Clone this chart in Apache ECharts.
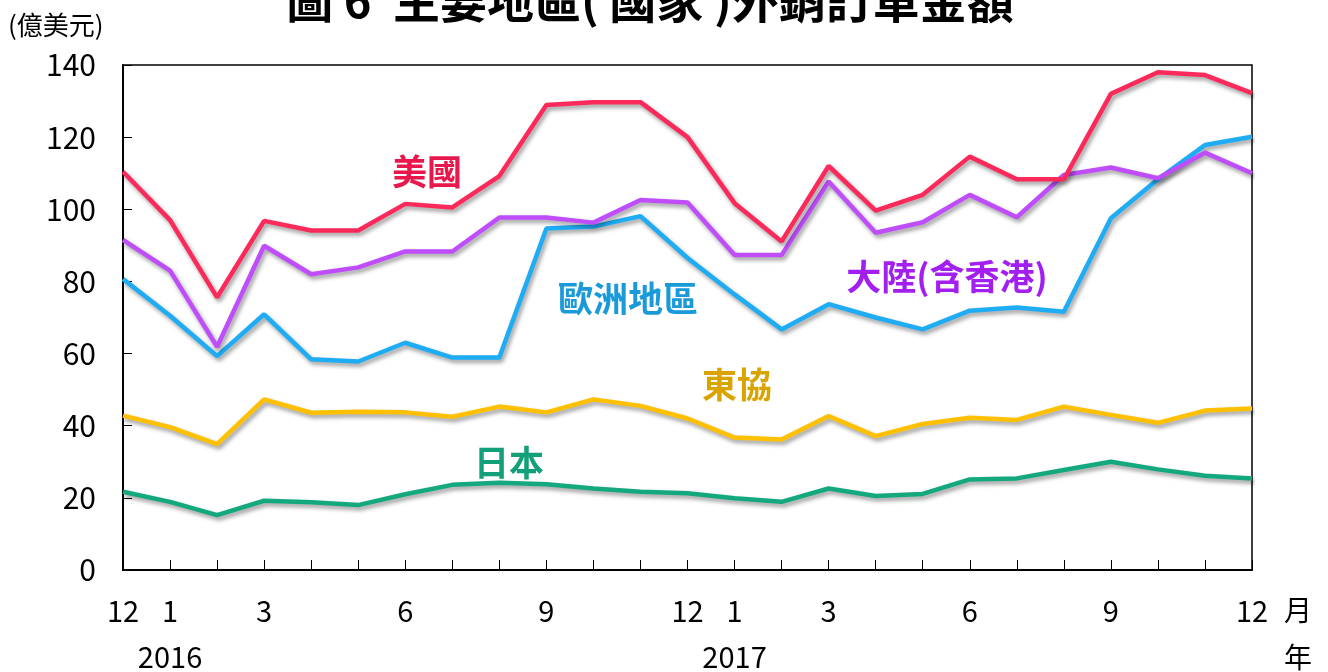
<!DOCTYPE html>
<html>
<head>
<meta charset="utf-8">
<script src="https://cdn.jsdelivr.net/npm/echarts@6/dist/echarts.min.js"></script>
<style>
	html, body { margin: 0; padding: 0; background: #fff; }
	#chart { width: 1328px; height: 672px; }
</style>
</head>
<body>
<div id="chart"></div>
<script>
	var FONT = '"Noto Sans CJK TC", "Noto Sans", sans-serif';

	// 2015/12 ~ 2017/12
	var months = ['12', '1', '', '3', '', '', '6', '', '', '9', '', '', '12',
		'1', '', '3', '', '', '6', '', '', '9', '', '', '12'];
	var years = ['', '2016', '', '', '', '', '', '', '', '', '', '', '',
		'2017', '', '', '', '', '', '', '', '', '', '', ''];
	var yTicks = [0, 20, 40, 60, 80, 100, 120, 140];

	var usa = [110.4, 97.0, 75.6, 96.8, 94.1, 94.1, 101.5, 100.5, 109.2, 128.9, 129.7, 129.7, 120.0,
		101.7, 91.1, 112.0, 99.6, 104.0, 114.6, 108.3, 108.3, 132.0, 138.0, 137.2, 132.2];
	var china = [91.5, 83.0, 61.9, 89.9, 82.0, 83.9, 88.3, 88.3, 97.7, 97.7, 96.3, 102.6, 101.9,
		87.3, 87.3, 107.7, 93.5, 96.4, 104.0, 97.8, 109.5, 111.6, 108.6, 115.7, 110.0];
	var europe = [80.7, 70.5, 59.3, 70.9, 58.4, 57.8, 63.0, 58.9, 58.9, 94.7, 95.2, 98.1, 86.5,
		76.4, 66.7, 73.7, 70.0, 66.7, 71.9, 72.8, 71.6, 97.5, 108.3, 117.8, 120.1];
	var asean = [42.8, 39.6, 34.9, 47.3, 43.6, 43.9, 43.7, 42.5, 45.3, 43.7, 47.3, 45.5, 42.0,
		36.7, 36.2, 42.7, 37.1, 40.5, 42.2, 41.6, 45.3, 43.0, 40.8, 44.2, 44.8];
	var japan = [21.7, 18.9, 15.2, 19.2, 18.8, 18.0, 21.0, 23.6, 24.2, 23.8, 22.6, 21.7, 21.3,
		19.9, 18.9, 22.6, 20.5, 21.1, 25.1, 25.4, 27.7, 30.0, 27.9, 26.1, 25.4];

	var categories = months.map(function(m, i) { return i; });

	function makeLine(name, data, color) {
		return {
			name: name,
			type: 'line',
			data: data,
			symbol: 'none',
			smooth: false,
			lineStyle: {
				color: color,
				width: 4.5,
				shadowColor: 'rgba(0,0,0,0.4)',
				shadowBlur: 4,
				shadowOffsetX: 2,
				shadowOffsetY: 3
			},
			itemStyle: { color: color },
			z: 3
		};
	}

	function label(text, x, y, color) {
		return {
			type: 'text',
			x: x,
			y: y,
			style: {
				text: text,
				fill: color,
				font: 'bold 35px ' + FONT,
				align: 'center',
				verticalAlign: 'middle'
			},
			z: 10
		};
	}

	var option = {
		animation: false,
		backgroundColor: '#fff',
		grid: {
			left: 123,
			right: 76,
			top: 65,
			bottom: 102,
			show: true,
			borderColor: '#000',
			borderWidth: 1.5,
			containLabel: false,
			outerBoundsMode: 'none'
		},
		xAxis: {
			type: 'category',
			data: categories,
			boundaryGap: false,
			axisLine: { lineStyle: { color: '#000', width: 2 } },
			axisTick: {
				show: true,
				inside: true,
				length: 10,
				interval: 0,
				lineStyle: { color: '#000', width: 1 }
			},
			axisLabel: {
				interval: 0,
				margin: 18,
				color: '#000',
				fontFamily: FONT,
				fontSize: 29,
				lineHeight: 46,
				verticalAlign: 'top',
				formatter: function(v, i) {
					if (years[i]) return months[i] + '\n' + years[i];
					return months[i];
				}
			},
			splitLine: { show: false }
		},
		yAxis: {
			type: 'value',
			min: yTicks[0],
			max: yTicks[yTicks.length - 1],
			interval: 20,
			axisLine: { show: true, lineStyle: { color: '#000', width: 2 } },
			axisTick: {
				show: true,
				inside: true,
				length: 9,
				lineStyle: { color: '#000', width: 1 }
			},
			axisLabel: {
				margin: 27,
				color: '#000',
				fontFamily: FONT,
				fontSize: 30
			},
			splitLine: { show: false }
		},
		series: [
			makeLine('日本', japan, '#14a87e'),
			makeLine('東協', asean, '#ffc000'),
			makeLine('歐洲地區', europe, '#1eacf5'),
			makeLine('大陸(含香港)', china, '#bf4dfb'),
			makeLine('美國', usa, '#fc2a5a')
		],
		graphic: [
			{
				type: 'text',
				x: 650,
				y: 0,
				style: {
					text: '圖 6  主要地區( 國家 )外銷訂單金額',
					fill: '#000',
					font: 'bold 47px ' + FONT,
					align: 'center',
					verticalAlign: 'middle'
				}
			},
			{
				type: 'text',
				x: 8,
				y: 25,
				style: {
					text: '(億美元)',
					fill: '#000',
					font: '26px ' + FONT,
					align: 'left',
					verticalAlign: 'middle'
				}
			},
			{
				type: 'text',
				x: 1298,
				y: 610,
				style: { text: '月', fill: '#000', font: '28px ' + FONT, align: 'center', verticalAlign: 'middle' }
			},
			{
				type: 'text',
				x: 1298,
				y: 657,
				style: { text: '年', fill: '#000', font: '28px ' + FONT, align: 'center', verticalAlign: 'middle' }
			},
			label('美國', 427, 172, '#e8174c'),
			label('歐洲地區', 628, 299, '#1a9ad9'),
			label('大陸(含香港)', 947, 277, '#a21ff0'),
			label('東協', 737, 385, '#d9a400'),
			label('日本', 509, 463, '#12a07a')
		]
	};

	var chart = echarts.init(document.getElementById('chart'));
	chart.setOption(option);
</script>
</body>
</html>
